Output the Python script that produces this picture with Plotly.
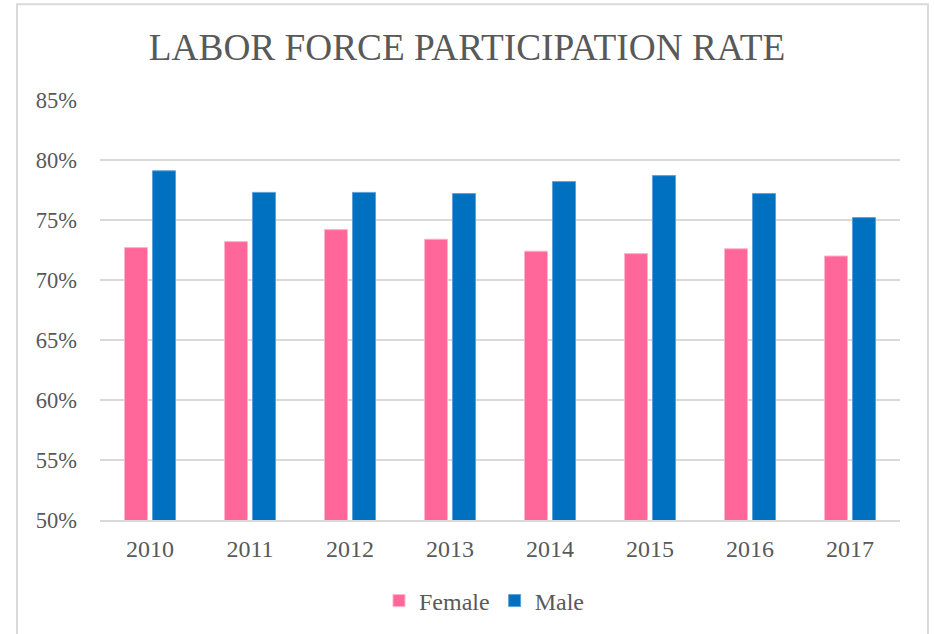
import plotly.graph_objects as go

years = ["2010", "2011", "2012", "2013", "2014", "2015", "2016", "2017"]
female = [72.7, 73.2, 74.2, 73.4, 72.4, 72.2, 72.6, 72.0]
male = [79.1, 77.3, 77.3, 77.2, 78.2, 78.7, 77.2, 75.2]
ytick_vals = [50, 55, 60, 65, 70, 75, 80, 85]
ytick_text = ["50%", "55%", "60%", "65%", "70%", "75%", "80%", "85%"]

FONT = "Liberation Serif"
TXT = "#595959"

fig = go.Figure()
fig.add_trace(go.Bar(name="Female", x=years, y=female,
                     marker=dict(color="#FF6699", line=dict(color="#FFB3CC", width=1))))
fig.add_trace(go.Bar(name="Male", x=years, y=male,
                     marker=dict(color="#0070C0", line=dict(color="#5AA0D8", width=1))))

W, H = 934, 634
ml, mr, mt, mb = 100, 34, 100, 113
pw, ph = W - ml - mr, H - mt - mb

def px_x(x):
    return (x - ml) / pw

def px_y(y):
    return (H - mb - y) / ph

fig.update_layout(
    width=W, height=H,
    margin=dict(l=ml, r=mr, t=mt, b=mb),
    paper_bgcolor="white", plot_bgcolor="white",
    font=dict(family=FONT, color=TXT, size=23),
    title=dict(text="LABOR FORCE PARTICIPATION RATE", x=0.5, xanchor="center",
               y=1 - 47 / H, yanchor="middle",
               font=dict(family=FONT, size=37.3, color=TXT)),
    barmode="group", bargap=0.44, bargroupgap=0.18,
    legend=dict(orientation="h", x=0.48, xanchor="center", y=px_y(601), yanchor="middle",
                font=dict(family=FONT, size=24, color=TXT), itemwidth=30, traceorder="normal"),
    xaxis=dict(showgrid=False, showline=True, linecolor="#D9D9D9", linewidth=2,
               ticks="", ticklabelstandoff=6, tickfont=dict(family=FONT, size=24, color=TXT)),
    yaxis=dict(range=[50, 85], tickvals=ytick_vals, ticktext=ytick_text,
               showgrid=True, gridcolor="#D9D9D9", gridwidth=2, zeroline=False,
               showline=False, ticks="", ticklabelstandoff=22,
               tickfont=dict(family=FONT, size=22.5, color=TXT)),
    shapes=[dict(type="rect", xref="paper", yref="paper",
                 x0=px_x(17), x1=px_x(928), y0=px_y(640), y1=px_y(4),
                 line=dict(color="#D9D9D9", width=2), fillcolor="rgba(0,0,0,0)", layer="below")],
)

fig.write_html("out.html", config={"displayModeBar": False},
               post_script="document.body.style.margin='0px';")
